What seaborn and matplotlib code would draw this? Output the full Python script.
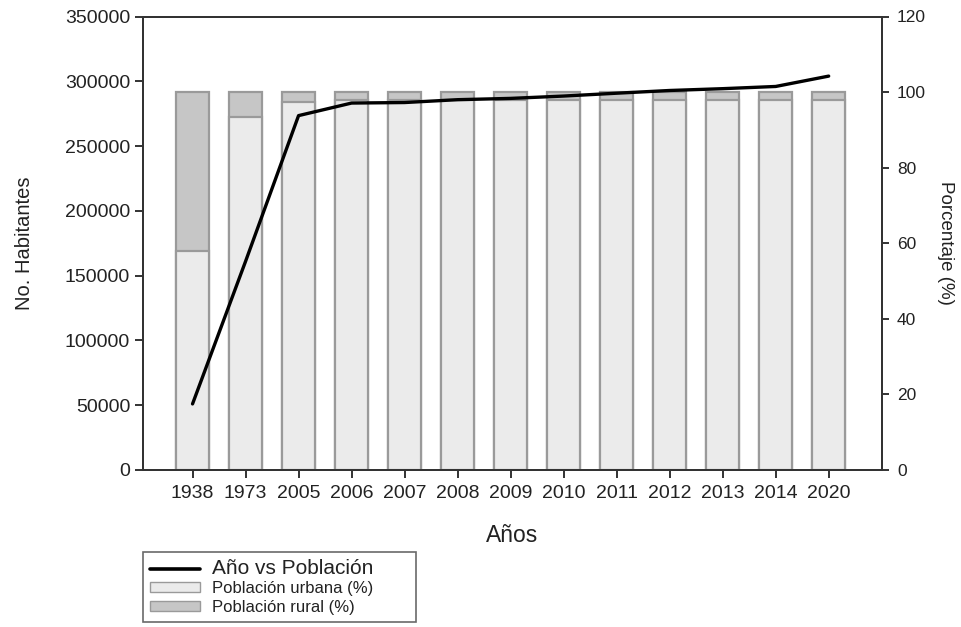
import numpy as np
import pandas as pd
import matplotlib
matplotlib.use("Agg")
import matplotlib.pyplot as plt
import seaborn as sns
from matplotlib.lines import Line2D
from matplotlib.patches import Patch

years = ['1938', '1973', '2005', '2006', '2007', '2008', '2009', '2010',
         '2011', '2012', '2013', '2014', '2020']
poblacion = [51000, 161000, 273500, 283200, 283600, 285800, 286800, 288600,
             290800, 292900, 294300, 296000, 304000]
urbana_pct = [58.0, 93.3, 97.4, 97.8, 97.8, 97.8, 97.8, 97.8,
              97.8, 97.8, 97.8, 97.8, 97.8]
rural_pct = [100 - u for u in urbana_pct]

df = pd.DataFrame({
    'anio': years,
    'pos': np.arange(len(years)),
    'poblacion': poblacion,
    'urbana': urbana_pct,
    'total': [u + r for u, r in zip(urbana_pct, rural_pct)],
})

sns.set_style("ticks")
plt.rcParams['font.family'] = ['Liberation Sans', 'DejaVu Sans']

fig = plt.figure(figsize=(9.62, 6.27), dpi=100)
ax = fig.add_axes([142.7 / 962, 1 - 470 / 627, (881.7 - 142.7) / 962, (470 - 16.5) / 627])
ax2 = ax.twinx()

urb_col = '#ebebeb'
rur_col = '#c6c6c6'
edge_col = '#9a9a9a'

# Bars (percent, right axis): total first (rural colour), urban over it
sns.barplot(data=df, x='anio', y='total', ax=ax2, color=rur_col, width=0.62,
            edgecolor=edge_col, linewidth=1.6, saturation=1, order=years)
sns.barplot(data=df, x='anio', y='urbana', ax=ax2, color=urb_col, width=0.62,
            edgecolor=edge_col, linewidth=1.6, saturation=1, order=years)

# Line (population, left axis)
sns.lineplot(data=df, x='pos', y='poblacion', ax=ax, color='black', linewidth=2.4)

ax.set_zorder(ax2.get_zorder() + 1)
ax.patch.set_visible(False)

ax.set_xlim(-0.94, 13.0)
ax2.set_xlim(-0.94, 13.0)
ax.set_ylim(0, 350000)
ax.set_yticks(np.arange(0, 350001, 50000))
ax2.set_ylim(0, 120)
ax2.set_yticks(np.arange(0, 121, 20))
ax.set_xticks(np.arange(len(years)))
ax.set_xticklabels(years)

for a in (ax, ax2):
    for s in a.spines.values():
        s.set_color('#333333')
        s.set_linewidth(1.4)

ax.tick_params(axis='both', direction='out', length=6, width=1.4, colors='#333333',
               labelcolor='#222222', labelsize=14, pad=3)
ax.tick_params(axis='x', pad=5)
ax2.tick_params(axis='y', direction='out', length=5, width=1.4, colors='#333333',
                labelcolor='#222222', labelsize=12.5, pad=6)

ax.set_ylabel('No. Habitantes', fontsize=14.5, color='#222222', labelpad=22)
ax2.set_ylabel('Porcentaje (%)', fontsize=13.5, color='#222222', rotation=270, labelpad=20)
ax.set_xlabel('Años', fontsize=16.5, color='#222222', labelpad=16)
ax2.set_xlabel('')

handles = [Line2D([0], [0], color='black', linewidth=2.6),
           Patch(facecolor=urb_col, edgecolor=edge_col, linewidth=1),
           Patch(facecolor=rur_col, edgecolor=edge_col, linewidth=1)]
labels = ['Año vs Población', 'Población urbana (%)', 'Población rural (%)']
leg = fig.legend(handles, labels, loc='upper left',
                 bbox_to_anchor=(143 / 962, 1 - 552 / 627, 273 / 962, 0),
                 mode='expand',
                 fontsize=12, frameon=True, fancybox=False, borderaxespad=0,
                 handlelength=3.0, handleheight=0.55, handletextpad=0.7,
                 labelspacing=0.2, borderpad=0.42)
leg.get_frame().set_edgecolor('#444444')
leg.get_frame().set_linewidth(1.2)
texts = leg.get_texts()
texts[0].set_fontsize(15)
for t in texts:
    t.set_color('#222222')

fig.savefig('out.png', dpi=100)
